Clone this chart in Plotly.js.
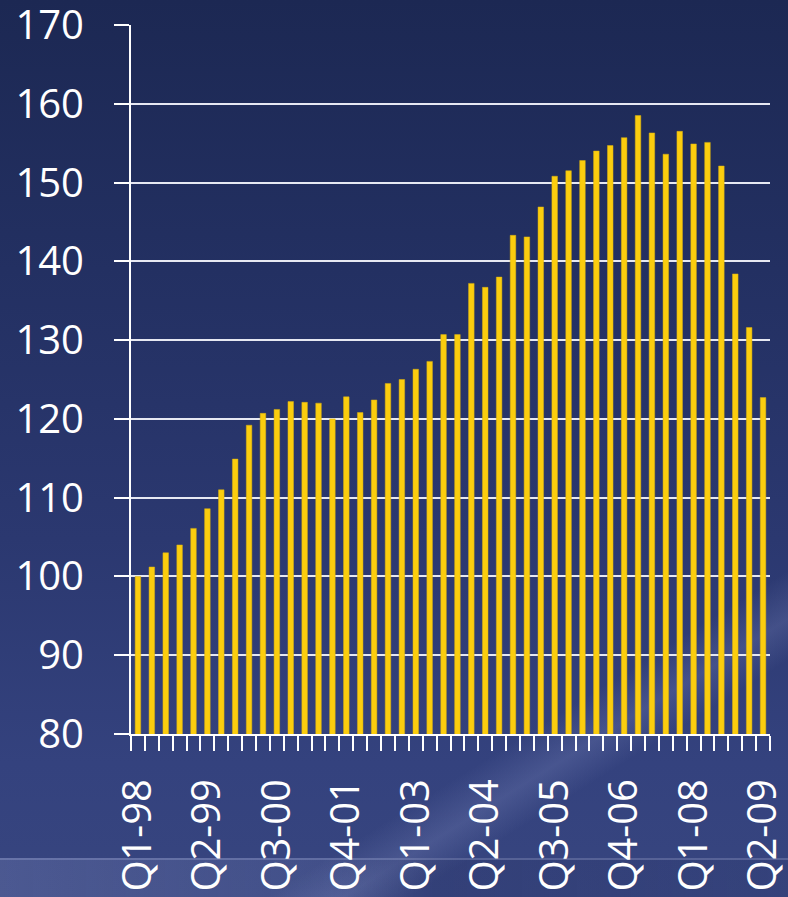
<!DOCTYPE html>
<html>
<head>
<meta charset="utf-8">
<script src="https://cdn.plot.ly/plotly-3.0.1.min.js"></script>
<style>
  html, body { margin: 0; padding: 0; }
  #wrap {
    position: relative;
    width: 788px; height: 897px; overflow: hidden;
    background: linear-gradient(to bottom, #1c2853 0%, #233062 30%, #2b3870 60%, #34427e 85%, #37457f 100%);
  }
  /* faint light streak crossing the lower part of the slide */
  #streak {
    position: absolute; left: 0; top: 0; width: 788px; height: 897px;
    background: linear-gradient(148deg, rgba(255,255,255,0) 76.5%, rgba(170,180,230,0.17) 80%, rgba(255,255,255,0) 83%);
    pointer-events: none;
  }
  #band {
    position: absolute; left: 0; top: 858px; width: 788px; height: 39px;
    background: linear-gradient(to right, rgba(150,160,210,0.22) 0%, rgba(150,160,210,0.12) 42%, rgba(40,50,100,0.25) 55%, rgba(40,50,100,0.15) 100%);
    border-top: 2px solid rgba(190,200,240,0.25);
    pointer-events: none;
  }
  #chart { position: absolute; left: 0; top: 0; width: 788px; height: 897px; }
</style>
</head>
<body>
<div id="wrap">
  <div id="streak"></div>
  <div id="band"></div>
  <div id="chart"></div>
</div>
<script>
// Quarterly index, Q1 1998 = 100
const quarters = [
  'Q1-98','Q2-98','Q3-98','Q4-98',
  'Q1-99','Q2-99','Q3-99','Q4-99',
  'Q1-00','Q2-00','Q3-00','Q4-00',
  'Q1-01','Q2-01','Q3-01','Q4-01',
  'Q1-02','Q2-02','Q3-02','Q4-02',
  'Q1-03','Q2-03','Q3-03','Q4-03',
  'Q1-04','Q2-04','Q3-04','Q4-04',
  'Q1-05','Q2-05','Q3-05','Q4-05',
  'Q1-06','Q2-06','Q3-06','Q4-06',
  'Q1-07','Q2-07','Q3-07','Q4-07',
  'Q1-08','Q2-08','Q3-08','Q4-08',
  'Q1-09','Q2-09'
];
const indexValues = [
  100.0, 101.2, 103.0, 104.0,
  106.1, 108.6, 111.0, 114.9,
  119.2, 120.7, 121.2, 122.2,
  122.1, 122.0, 120.0, 122.8,
  120.8, 122.4, 124.5, 125.0,
  126.3, 127.3, 130.7, 130.7,
  137.2, 136.7, 138.0, 143.3,
  143.1, 146.9, 150.8, 151.5,
  152.8, 154.0, 154.7, 155.7,
  158.5, 156.3, 153.6, 156.5,
  154.9, 155.1, 152.1, 138.4,
  131.6, 122.7
];
// every fifth quarter is labelled
const labelStep = 5;
const yTicks = [80, 90, 100, 110, 120, 130, 140, 150, 160, 170];

const xPos = quarters.map((q, i) => i);
const tickPos = xPos.filter(i => i % labelStep === 0);
const tickText = tickPos.map(i => quarters[i]);

const trace = {
  type: 'bar',
  x: xPos,
  y: indexValues,
  text: quarters,
  textposition: 'none',
  hoverinfo: 'text+y',
  marker: { color: '#fbcd0e', line: { color: '#d8b012', width: 0.5 } }
};

const fontFamily = '"Open Sans", "Noto Sans", sans-serif';

const layout = {
  width: 788, height: 897,
  margin: { l: 131, r: 18, t: 25, b: 163 },
  paper_bgcolor: 'rgba(0,0,0,0)',
  plot_bgcolor: 'rgba(0,0,0,0)',
  bargap: 0.6,
  showlegend: false,
  font: { family: fontFamily, color: '#ffffff', size: 40 },
  xaxis: {
    range: [-0.5, quarters.length - 0.5],
    tickmode: 'array',
    tickvals: tickPos,
    ticktext: tickText,
    tickangle: -90,
    ticks: 'outside',
    ticklen: 15,
    tickcolor: 'rgba(0,0,0,0)',
    ticklabelstandoff: 12,
    ticklabeloverflow: 'allow',
    tickfont: { family: fontFamily, size: 40, color: '#ffffff' },
    showgrid: false,
    zeroline: false,
    showline: true,
    linecolor: '#ffffff',
    linewidth: 2,
    minor: {
      tick0: -0.5, dtick: 1,
      ticks: 'outside', ticklen: 15, tickwidth: 2, tickcolor: '#ffffff',
      showgrid: false
    },
    fixedrange: true
  },
  yaxis: {
    range: [80, 170],
    tickmode: 'array',
    tickvals: yTicks,
    ticks: 'outside',
    ticklen: 15,
    tickwidth: 2,
    tickcolor: '#ffffff',
    ticklabelstandoff: 22,
    ticklabeloverflow: 'allow',
    tickfont: { family: fontFamily, size: 40, color: '#ffffff' },
    showgrid: true,
    gridcolor: '#e6e8f2',
    gridwidth: 2,
    zeroline: false,
    showline: true,
    linecolor: '#ffffff',
    linewidth: 2,
    fixedrange: true
  }
};

Plotly.newPlot('chart', [trace], layout, { displayModeBar: false, staticPlot: true });
</script>
</body>
</html>
